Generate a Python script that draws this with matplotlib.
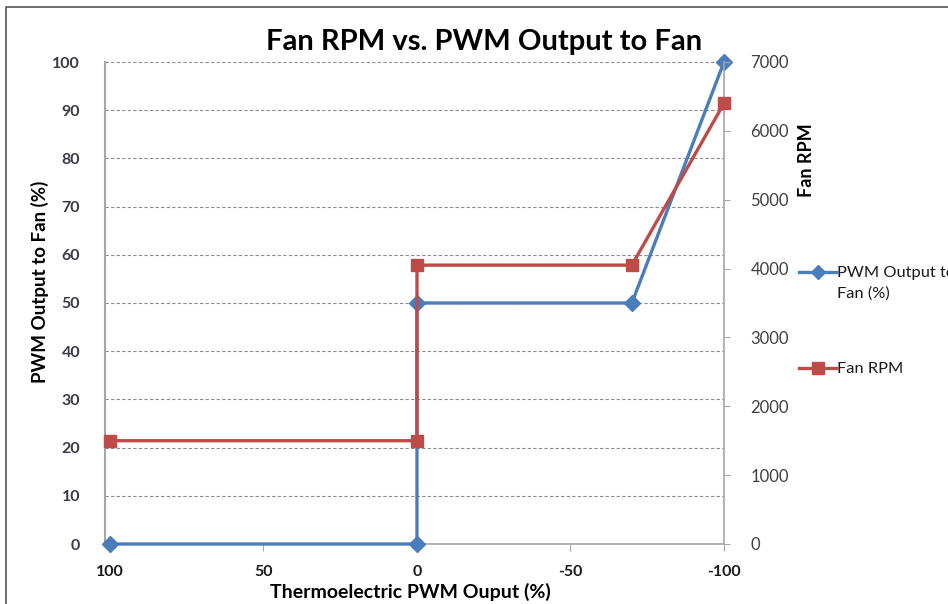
import matplotlib.pyplot as plt
from matplotlib.patches import Rectangle
from matplotlib.lines import Line2D

# data
te_pwm = [100, 0, 0, -70, -100]
fan_pwm = [0, 0, 50, 50, 100]
fan_rpm = [1500, 1500, 4050, 4050, 6400]

pwm_ticks = list(range(0, 101, 10))
rpm_ticks = list(range(0, 7001, 1000))
x_ticks = [100, 50, 0, -50, -100]

BLUE = '#4a7ebb'
RED = '#be4b48'

plt.rcParams['font.family'] = ['Lato', 'DejaVu Sans']
plt.rcParams['axes.unicode_minus'] = False

W, H = 948, 604
fig = plt.figure(figsize=(W / 100, H / 100), dpi=100)

def fx(px):
    return px / W

def fy(py):
    return 1 - py / H

# outer chart border
fig.patches.append(Rectangle((fx(6), -0.05), 1.0, fy(7) + 0.05, transform=fig.transFigure,
                             fill=False, edgecolor='#555555', linewidth=1.2))

left, right, top, bot = 105, 724, 62, 544
ax = fig.add_axes([fx(left), fy(bot), (right - left) / W, (bot - top) / H])
ax2 = ax.twinx()

ax.set_xlim(101.6, -100)
ax.set_ylim(0, 100)
ax2.set_ylim(0, 7000)

ax.set_yticks(pwm_ticks)
ax.set_xticks(x_ticks)
ax2.set_yticks(rpm_ticks)

ax.grid(axis='y', linestyle=(0, (3, 2)), color='#8c8c8c', linewidth=0.8)
ax.set_axisbelow(True)

ax.spines['top'].set_visible(False)
ax2.spines['top'].set_visible(False)
ax.spines['right'].set_visible(False)
ax2.spines['left'].set_visible(False)
ax.spines['left'].set_color('#a6a6a6')
ax.spines['left'].set_linewidth(1.5)
ax.spines['bottom'].set_color('#a6a6a6')
ax.spines['bottom'].set_linewidth(1.2)
ax2.spines['bottom'].set_visible(False)
ax2.spines['right'].set_color('#a6a6a6')
ax2.spines['right'].set_linewidth(1.2)

ax.tick_params(axis='y', length=0, pad=18, labelsize=11.5, labelcolor='#3a3a4a')
ax.tick_params(axis='x', direction='out', length=5, color='#a6a6a6', pad=10,
               labelsize=11.5, labelcolor='#1a1a1a')
ax2.tick_params(axis='y', direction='out', length=4, color='#a6a6a6', pad=15,
                labelsize=12, labelcolor='#404040')
for lab in ax.get_yticklabels() + ax.get_xticklabels():
    lab.set_fontweight('bold')

ax.plot(te_pwm, fan_pwm, color=BLUE, linewidth=2.4, marker='D', markersize=8,
        clip_on=False, zorder=3)
ax2.plot(te_pwm, fan_rpm, color=RED, linewidth=2.4, marker='s', markersize=9,
         clip_on=False, zorder=3)

fig.text(fx(484), fy(42), 'Fan RPM vs. PWM Output to Fan', ha='center', va='center',
         fontsize=21, fontweight='bold', color='black')
fig.text(fx(40), fy(282), 'PWM Output to Fan (%)', rotation=90, ha='center', va='center',
         fontsize=13.5, fontweight='bold', color='black')
fig.text(fx(806), fy(160), 'Fan RPM', rotation=90, ha='center', va='center',
         fontsize=13, fontweight='bold', color='black')
fig.text(fx(410), fy(592), 'Thermoelectric PWM Ouput (%)', ha='center', va='center',
         fontsize=14, fontweight='bold', color='black')

# legend drawn by hand so the key sits on the first text line
legend_items = [('PWM Output to\nFan (%)', BLUE, 'D', 7, 272),
                ('Fan RPM', RED, 's', 8, 368)]
for label, col, mk, ms, ypix in legend_items:
    fig.add_artist(Line2D([fx(799), fx(836)], [fy(ypix), fy(ypix)], color=col, linewidth=2.4,
                          transform=fig.transFigure))
    fig.add_artist(Line2D([fx(817.5)], [fy(ypix)], color=col, marker=mk, markersize=ms,
                          transform=fig.transFigure))
    fig.text(fx(837), fy(ypix - 6), label, ha='left', va='top', fontsize=11.8,
             color='#1a1a1a', linespacing=1.55)

fig.savefig('out.png', dpi=100)
